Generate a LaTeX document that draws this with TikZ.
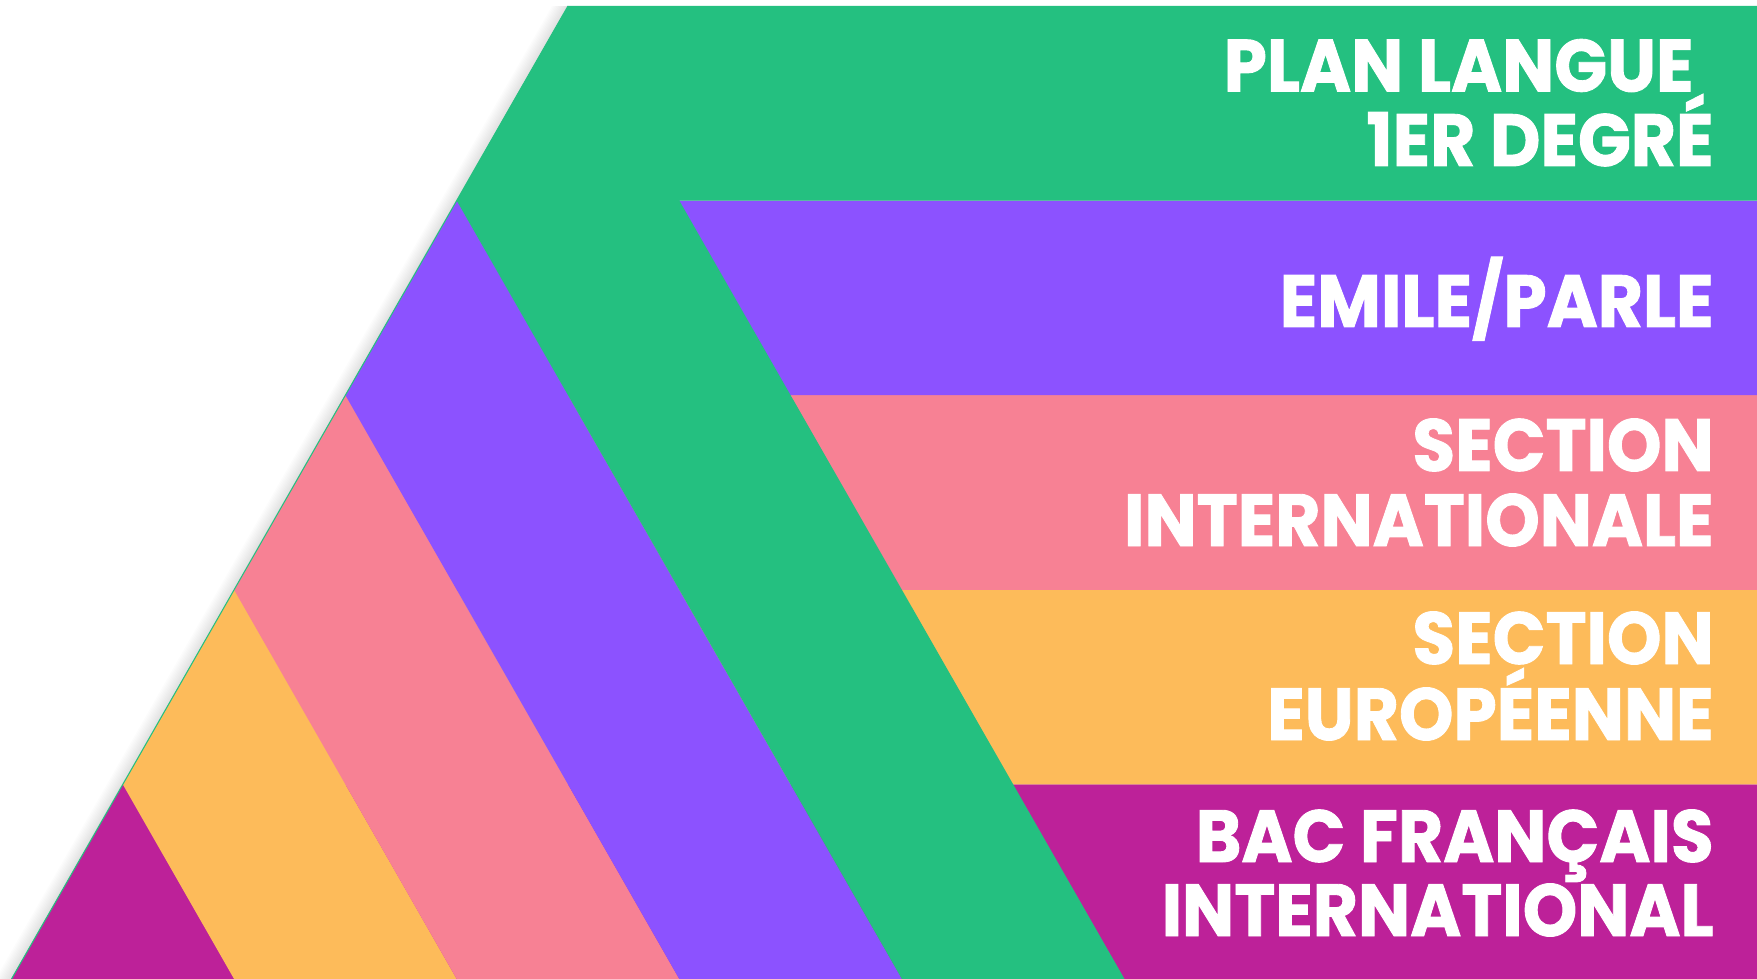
\documentclass[tikz,border=0pt]{standalone}
\usepackage{fontspec}
\newfontfamily\bandfont{Poppins}[FakeStretch=0.94,FakeBold=1.2]
\definecolor{plan}{RGB}{36,192,128}
\definecolor{emile}{RGB}{140,82,255}
\definecolor{inter}{RGB}{247,129,148}
\definecolor{euro}{RGB}{253,187,90}
\definecolor{bac}{RGB}{189,33,153}
\tikzset{lbl/.style={font=\bandfont\bfseries\fontsize{42}{42}\selectfont,
  text=white, inner sep=0pt, anchor=base east}}

\begin{document}
\begin{tikzpicture}[x=0.02cm,y=-0.02cm]
\useasboundingbox (0,0) rectangle (1757,979);
\fill[white] (0,0) rectangle (1757,979);
\foreach \d in {1,...,10}
  \fill[black,opacity=0.012,shift={(-1.6*\d,0)}]
    (568,6) -- (1757,6) -- (1757,979) -- (11.5,979) -- cycle;
\foreach \i/\col in {4/bac,3/euro,2/inter,1/emile,0/plan}{
  \pgfmathsetmacro\ya{6+\i*194.6}
  \pgfmathsetmacro\yb{\ya+194.6}
  \pgfmathsetmacro\xa{568-\i*111.3}
  \fill[\col] (\xa,\ya) -- (1757,\ya) -- (1757,\yb) -- (\xa+111.3,\yb)
    -- ({568+(5-2*\i)*111.3},979) -- ({568+(3-2*\i)*111.3},979)
    -- (\xa-111.3,\yb) -- cycle;
}
\draw[plan,line width=0.6pt] (568,6) -- (11.5,979);

\node[lbl] (plan1) at (1694,91.5) {PLAN LANGUE};
\node[lbl] (plan2) at (1714,166) {1ER DEGRÉ};
\node[lbl] (emile1) at (1714,327) {EMILE/PARLE};
\node[lbl] (inter1) at (1714,471) {SECTION};
\node[lbl] (inter2) at (1714,546) {INTERNATIONALE};
\node[lbl] (euro1) at (1714,664) {SECTION};
\node[lbl] (euro2) at (1714,740) {EUROPÉENNE};
\node[lbl] (bac1) at (1714,862) {BAC FRANÇAIS};
\node[lbl] (bac2) at (1714,936) {INTERNATIONAL};
\end{tikzpicture}
\end{document}
